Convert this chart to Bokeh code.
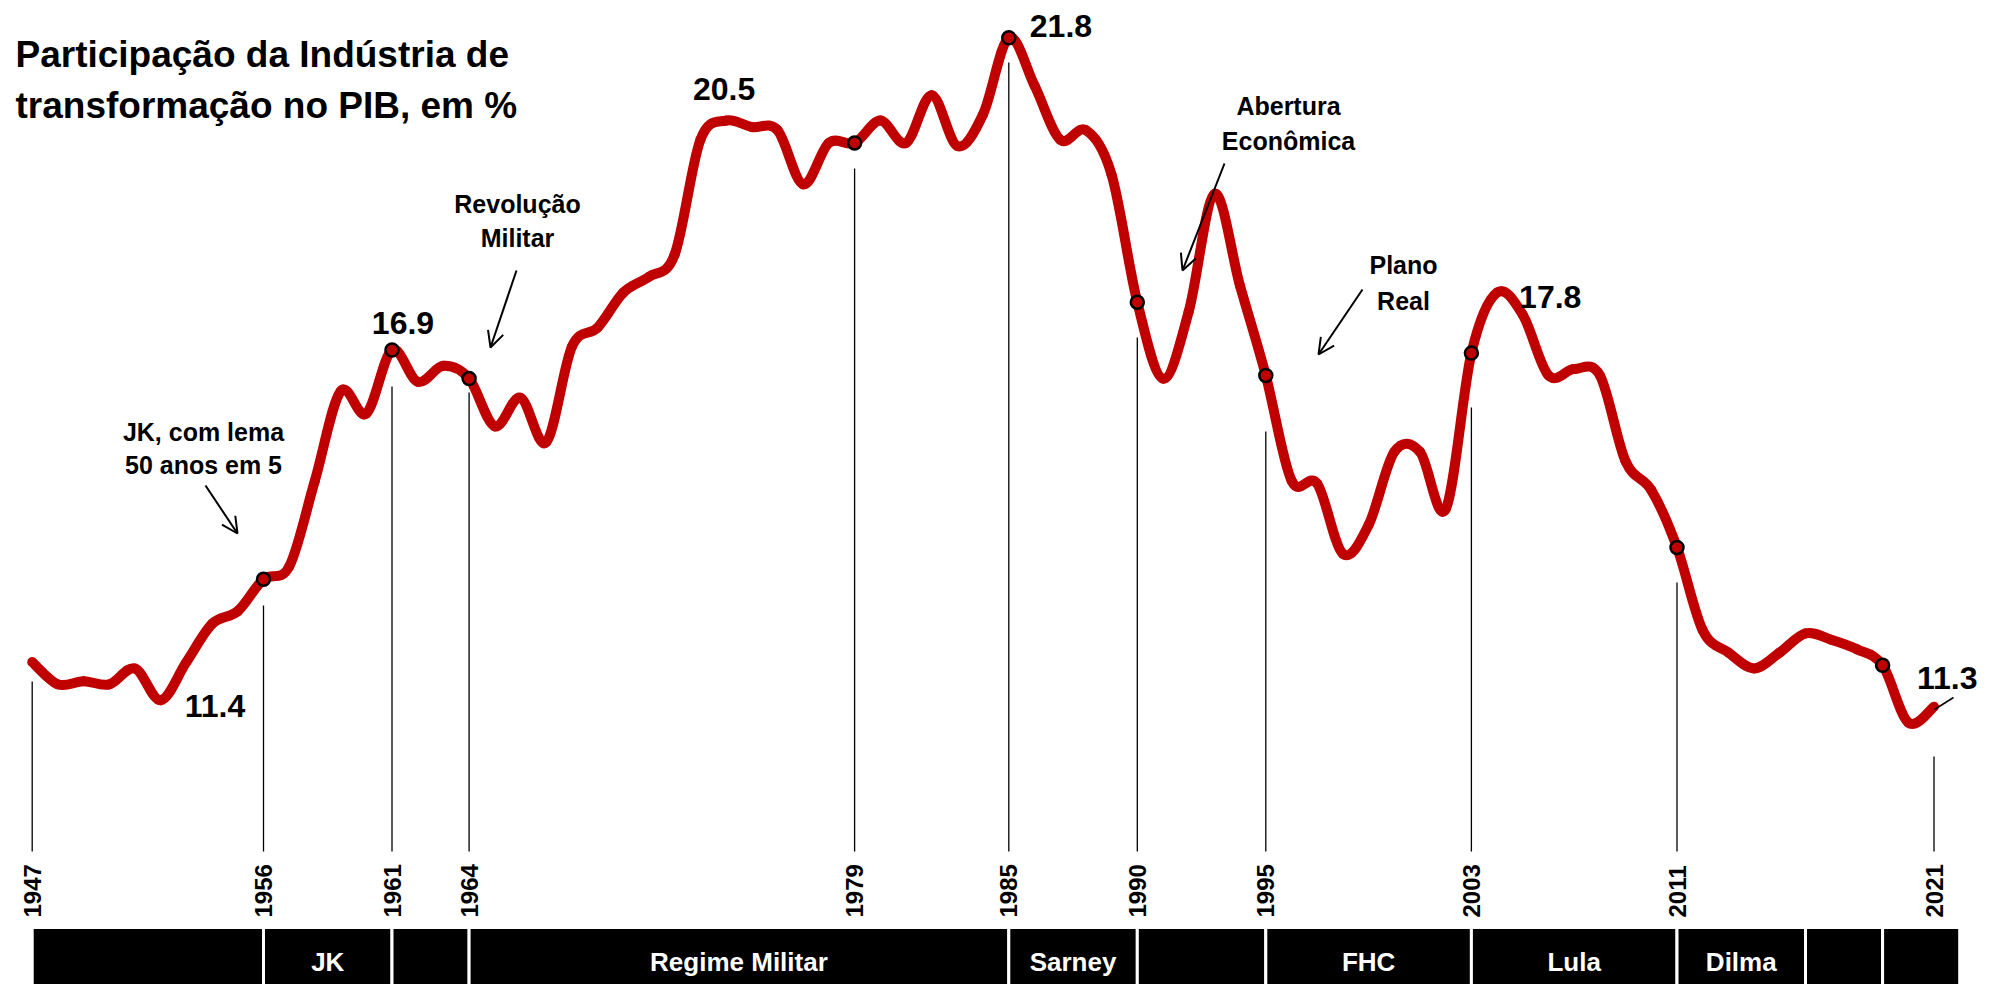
import math
from bokeh.plotting import figure
from bokeh.models import Range1d, Arrow, OpenHead
from bokeh.core.properties import value
from bokeh.embed import file_html
from bokeh.resources import INLINE

# ---------------- data ----------------
years = list(range(1947, 2022))
share = [
    12.0, 11.65, 11.7, 11.65, 11.9, 11.4, 12.0, 12.6, 12.8,          # 1947-1955
    13.3, 13.5, 14.85, 16.25, 15.9,                                   # 1956-1960
    16.9, 16.4, 16.65, 16.45, 15.7, 16.15, 15.45, 16.95, 17.25,       # 1961-1969
    17.8, 18.05, 18.4, 20.2, 20.5, 20.4, 20.35, 19.5, 20.15, 20.15,   # 1970-1979
    20.5, 20.15, 20.9, 20.1, 20.6, 21.8, 21.05, 20.2, 20.35, 19.65,   # 1980-1989
    17.65, 16.45, 17.5, 19.35, 17.9, 16.5, 14.85, 14.8, 13.7, 14.15,  # 1990-1999
    15.3, 15.3, 14.4, 16.85, 17.8, 17.45, 16.5, 16.6, 16.5, 15.15,    # 2000-2009
    14.7, 13.8, 12.5, 12.15, 11.9, 12.15, 12.45, 12.35, 12.2, 11.95,  # 2010-2019
    11.05, 11.3,                                                      # 2020-2021
]
assert len(share) == len(years)

marked_years = [1956, 1961, 1964, 1979, 1985, 1990, 1995, 2003, 2011, 2019]
tick_years = [1947, 1956, 1961, 1964, 1979, 1985, 1990, 1995, 2003, 2011, 2021]
label_years = [1952, 1961, 1974, 1985, 2004, 2021]

period_start = [1947, 1956, 1961, 1964, 1985, 1990, 1995, 2003, 2011, 2016, 2019]
period_end = [1956, 1961, 1964, 1985, 1990, 1995, 2003, 2011, 2016, 2019, 2022]
period_name = ["", "JK", "", "Regime Militar", "Sarney", "", "FHC", "Lula", "Dilma", "", ""]

title_lines = ["Participação da Indústria de", "transformação no PIB, em %"]
event_line1 = ["JK, com lema", "Revolução", "Abertura", "Plano"]
event_line2 = ["50 anos em 5", "Militar", "Econômica", "Real"]

# ---------------- layout ----------------
W, H = 1984, 984
M = 0                      # the page template puts the figure at the top-left corner
X0_PX, PX_PER_YEAR = 31.7, 25.7      # pixel of 1947, pixels per year
Y_REF_PX, Y_REF_VAL, PX_PER_UNIT = 37.3, 21.8, 63.7
BL = -11                   # correction so alphabetic baselines land where intended

x_start = 1947 + (M - X0_PX) / PX_PER_YEAR
x_end = 1947 + (M + W - X0_PX) / PX_PER_YEAR
y_end = Y_REF_VAL + (Y_REF_PX - M) / PX_PER_UNIT
y_start = Y_REF_VAL - (M + H - Y_REF_PX) / PX_PER_UNIT

RED = "#C00000"
FONT = value("Liberation Sans")

p = figure(width=W, height=H, x_range=Range1d(x_start, x_end), y_range=Range1d(y_start, y_end),
           output_backend="svg", toolbar_location=None, min_border=0,
           x_axis_location=None, y_axis_location=None, outline_line_color=None)
p.grid.visible = False
p.extra_x_ranges = {"px": Range1d(M, M + W)}
p.extra_y_ranges = {"px": Range1d(M + H, M)}

# ---------------- bottom strip: periods ----------------
p.quad(left=period_start, right=period_end, top=927, bottom=1000, y_range_name="px",
       fill_color="black", line_color="white", line_width=3)
mids = [(a + b) / 2 for a, b, n in zip(period_start, period_end, period_name) if n]
names = [n for n in period_name if n]
p.text(x=mids, y=[961] * len(mids), text=names, y_range_name="px",
       text_align="center", text_baseline="middle", text_color="white",
       text_font=FONT, text_font_style="bold", text_font_size="26px")

# ---------------- year tick lines and labels ----------------
tick_top = [681, 605, 386, 392, 168, 62, 337, 431, 407, 582, 756]
p.segment(x0=tick_years, y0=tick_top, x1=tick_years, y1=[851] * len(tick_years),
          y_range_name="px", line_color="black", line_width=1.3)
p.text(x=tick_years, y=[917] * len(tick_years), text=[str(t) for t in tick_years],
       y_range_name="px", angle=math.pi / 2, text_align="left", text_baseline="middle",
       text_color="black", text_font=FONT, text_font_style="bold", text_font_size="24px")

# ---------------- smooth line (cubic Bezier through the yearly points) ----------------
n = len(years)
bx0, by0, bx1, by1, cx0, cy0, cx1, cy1 = ([] for _ in range(8))
for i in range(n - 1):
    a = max(i - 1, 0)
    d = min(i + 2, n - 1)
    bx0.append(years[i]); by0.append(share[i])
    bx1.append(years[i + 1]); by1.append(share[i + 1])
    cx0.append(years[i] + (years[i + 1] - years[a]) / 6)
    cy0.append(share[i] + (share[i + 1] - share[a]) / 6)
    cx1.append(years[i + 1] - (years[d] - years[i]) / 6)
    cy1.append(share[i + 1] - (share[d] - share[i]) / 6)
p.bezier(x0=bx0, y0=by0, x1=bx1, y1=by1, cx0=cx0, cy0=cy0, cx1=cx1, cy1=cy1,
         line_color=RED, line_width=10, line_cap="round")

mv = [share[years.index(y)] for y in marked_years]
p.scatter(x=marked_years, y=mv, size=13, fill_color=RED, line_color="black", line_width=2.5)

# ---------------- value labels ----------------
lv = [share[years.index(y)] for y in label_years]
ltxt = [f"{v:.1f}" for v in lv]
l_align = ["left", "center", "center", "left", "left", "left"]
l_dx = [24, 11, -2, 21, 22, -17]
l_dy = [17, -16, -21, -1, 15, -18]
for al in ("left", "center"):
    idx = [i for i, a in enumerate(l_align) if a == al]
    p.text(x=[label_years[i] for i in idx], y=[lv[i] for i in idx], text=[ltxt[i] for i in idx],
           x_offset=[l_dx[i] for i in idx], y_offset=[l_dy[i] + BL for i in idx],
           text_align=al, text_baseline="alphabetic", text_color="black",
           text_font=FONT, text_font_style="bold", text_font_size="32px")
p.segment(x0=[1934], y0=[709], x1=[1953], y1=[697], x_range_name="px", y_range_name="px",
          line_color="black", line_width=1.5)

# ---------------- title ----------------
p.text(x=[15, 15], y=[65 + BL, 116 + BL], text=title_lines, x_range_name="px", y_range_name="px",
       text_align="left", text_baseline="alphabetic", text_color="black",
       text_font=FONT, text_font_style="bold", text_font_size="37px")

# ---------------- event annotations ----------------
ev_x = [203, 517, 1288, 1403]
ev_y1 = [442, 214, 116, 275]
ev_y2 = [475, 248, 151, 311]
p.text(x=ev_x + ev_x, y=[v + BL for v in ev_y1 + ev_y2], text=event_line1 + event_line2,
       x_range_name="px", y_range_name="px", text_align="center", text_baseline="alphabetic",
       text_color="black", text_font=FONT, text_font_style="bold", text_font_size="25px")

arrows = [((205, 485), (237, 533)), ((516, 270), (490, 347)),
          ((1224, 163), (1182, 270)), ((1362, 289), (1318, 354))]
for (sx, sy), (ex, ey) in arrows:
    p.add_layout(Arrow(x_start=sx, y_start=sy, x_end=ex, y_end=ey,
                       x_range_name="px", y_range_name="px",
                       line_color="black", line_width=2,
                       end=OpenHead(size=16, line_width=2, line_color="black")))

open("out.html", "w").write(file_html(p, INLINE))
